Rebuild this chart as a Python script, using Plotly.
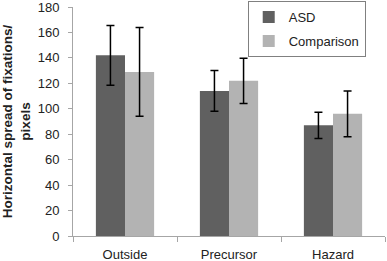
import plotly.graph_objects as go

categories = ["Outside", "Precursor", "Hazard"]
asd_values = [142, 114, 87]
asd_errors = [23.5, 16, 10.3]
comparison_values = [129, 122, 96]
comparison_errors = [34.8, 17.8, 17.9]
y_ticks = [0, 20, 40, 60, 80, 100, 120, 140, 160, 180]

FONT = "Liberation Sans"

fig = go.Figure()
fig.add_trace(go.Bar(
    name="ASD", x=categories, y=asd_values, legendgroup="a",
    marker=dict(color="#606060", line=dict(width=0)),
    error_y=dict(type="data", array=asd_errors, color="black", thickness=1.5, width=4),
))
fig.add_trace(go.Bar(
    name="Comparison", x=categories, y=comparison_values, legendgroup="b",
    marker=dict(color="#b3b3b3", line=dict(width=0)),
    error_y=dict(type="data", array=comparison_errors, color="black", thickness=1.5, width=4),
))

fig.update_layout(
    width=387, height=261,
    margin=dict(l=73, r=2, t=7, b=25, autoexpand=False),
    paper_bgcolor="white", plot_bgcolor="white",
    barmode="group", bargap=0.44, bargroupgap=0,
    font=dict(family=FONT, size=13, color="#222"),
    showlegend=True,
    legend=dict(
        x=0.56, y=1.026, xanchor="left", yanchor="top",
        bordercolor="#808080", borderwidth=1, bgcolor="white",
        font=dict(size=13), traceorder="grouped", tracegroupgap=4,
    ),
    xaxis=dict(
        showline=True, linecolor="#a6a6a6", linewidth=1,
        ticks="outside", tickson="boundaries", ticklen=5, tickcolor="#a6a6a6",
        showgrid=False, ticklabelstandoff=6, ticklabeloverflow="allow",
    ),
    yaxis=dict(
        range=[0, 180], tickvals=y_ticks,
        showline=True, linecolor="#a6a6a6", linewidth=1,
        ticks="outside", ticklen=4, tickcolor="#a6a6a6",
        showgrid=False, zeroline=False, ticklabelstandoff=6,
        ticklabeloverflow="allow",
        title=dict(text="<b>Horizontal spread of fixations/<br>pixels</b>",
                   font=dict(size=13.5), standoff=6),
    ),
)
fig.write_html(
    "out.html",
    config={"displayModeBar": False},
    post_script="document.body.style.margin='0';document.body.style.overflow='hidden';",
)
